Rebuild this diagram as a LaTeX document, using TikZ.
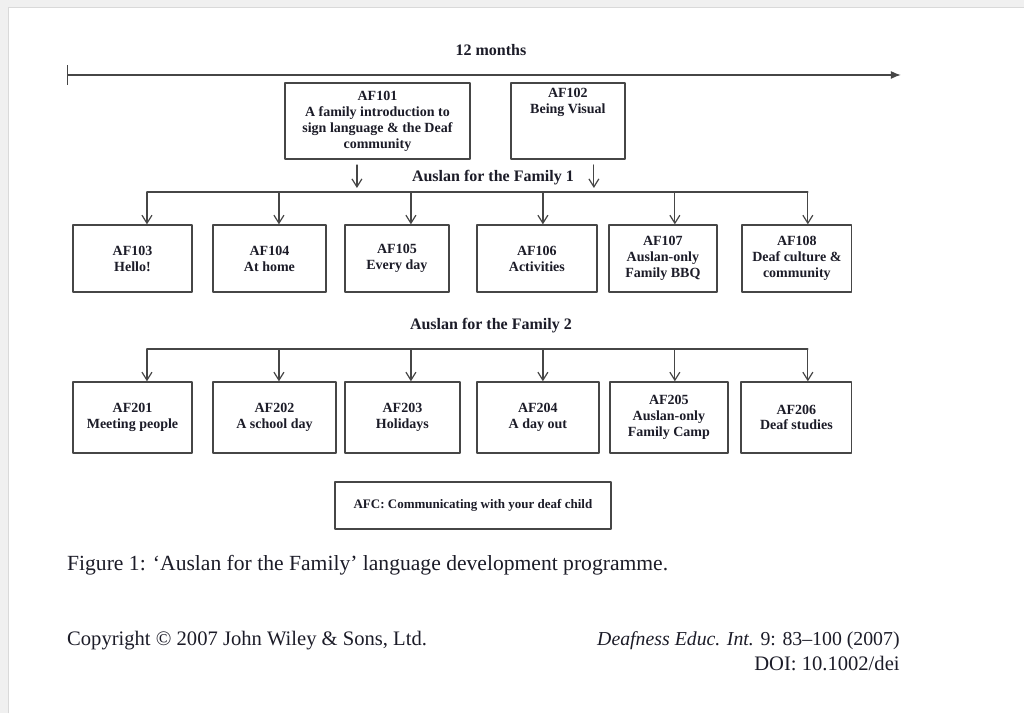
\documentclass[tikz,border=0pt]{standalone}
\usepackage{fontspec}
\setmainfont{Liberation Serif}
\usetikzlibrary{arrows.meta}
\definecolor{ink}{RGB}{28,28,40}
\definecolor{linegray}{RGB}{70,70,70}
\begin{document}
\begin{tikzpicture}[x=1pt,y=-1pt,>={Straight Barb[length=8pt,width=10pt]}, line join=round, line cap=round]
	\def\boxfont{\bfseries\fontsize{14}{16}\selectfont}
	\tikzset{box/.style={draw=linegray,line width=1.3pt,align=center,font=\boxfont,text=ink},
		head/.style={font=\bfseries\fontsize{16}{18}\selectfont,text=ink},
		link/.style={draw=linegray,line width=1.2pt,->},
		foot/.style={font=\fontsize{20.6}{22}\selectfont,text=ink,inner sep=0pt}}
	\def\rowa{258.5}\def\rowb{417.5}\def\busa{192}\def\busb{349}
	% page
	\fill[black!6] (0,0) rectangle (1024,713);
	\fill[white] (8,7) rectangle (1024,713);
	\draw[black!15] (8,713) -- (8,7) -- (1024,7);
	\useasboundingbox (0,0) rectangle (1024,713);
	% time line
	\node[head] (months) at (491,50) {12 months};
	\coordinate (t0) at (67,75); \coordinate (t1) at (901,75);
	\draw[linegray,line width=1.2pt,{Bar[width=20pt]}-{Latex[length=10pt,width=8pt]}] (t0) -- (t1);
	% introduction
	\node[box,minimum width=185,minimum height=76] (af101) at (377.5,121) {AF101\\A family introduction to\\sign language \& the Deaf\\community};
	\node[box,minimum width=114,minimum height=76] (af102) at (568,121) {};
	\node[font=\boxfont,text=ink,align=center,anchor=north,yshift=-2pt] (af102t) at (af102.north) {AF102\\Being Visual};
	\coordinate (in1) at (357,165); \coordinate (out1) at (357,188);
	\coordinate (in2) at (594,165); \coordinate (out2) at (594,188);
	\draw[link] (in1) -- (out1);
	\draw[link] (in2) -- (out2);
	% Auslan for the Family 1
	\node[head] (fam1) at (493,178) {Auslan for the Family 1};
	\foreach \n/\x/\w/\t in {af103/132.5/119/{AF103\\Hello!},af104/269.5/113/{AF104\\At home},
		af105/397/104/{AF105\\Every day},af106/537/120/{AF106\\Activities},
		af107/663/108/{AF107\\Auslan-only\\Family BBQ},af108/797/110/{AF108\\Deaf culture \&\\community}}
		\node[box,minimum width=\w,minimum height=67] (\n) at (\x,\rowa) {\t};
	\foreach \n/\d in {af103/147,af104/279,af105/411,af106/543,af107/675,af108/808}{
		\coordinate (d\n) at (\d,\busa);
		\draw[link] (d\n) -- (d\n |- \n.north);
	}
	\draw[linegray,line width=1.2pt] (daf103) -- (daf108);
	% Auslan for the Family 2
	\node[head] (fam2) at (491,326) {Auslan for the Family 2};
	\foreach \n/\x/\w/\t in {af201/132.5/119/{AF201\\Meeting people},af202/274.5/123/{AF202\\A school day},
		af203/402.5/115/{AF203\\Holidays},af204/538/122/{AF204\\A day out},
		af205/669/118/{AF205\\Auslan-only\\Family Camp},af206/796.5/111/{AF206\\Deaf studies}}
		\node[box,minimum width=\w,minimum height=71] (\n) at (\x,\rowb) {\t};
	\foreach \n/\d in {af201/147,af202/279,af203/411,af204/543,af205/675,af206/808}{
		\coordinate (d\n) at (\d,\busb);
		\draw[link] (d\n) -- (d\n |- \n.north);
	}
	\draw[linegray,line width=1.2pt] (daf201) -- (daf206);
	% communication
	\node[box,font=\bfseries\fontsize{13}{15}\selectfont,minimum width=276,minimum height=47] (afc) at (473,505.5) {AFC: Communicating with your deaf child};
	% caption and footer
	\node[foot,font=\fontsize{21.6}{24}\selectfont,anchor=west] (caption) at (67,565) {Figure 1: `Auslan for the Family' language development programme.};
	\node[foot,anchor=west] (copy) at (67,641) {Copyright \textcopyright\ 2007 John Wiley \& Sons, Ltd.};
	\node[foot,font=\fontsize{19.8}{22}\selectfont,anchor=east] (journal) at (900,641) {\textit{Deafness Educ. Int.} 9: 83--100 (2007)};
	\node[foot,anchor=east] (doi) at (900,664) {DOI: 10.1002/dei};
\end{tikzpicture}
\end{document}
